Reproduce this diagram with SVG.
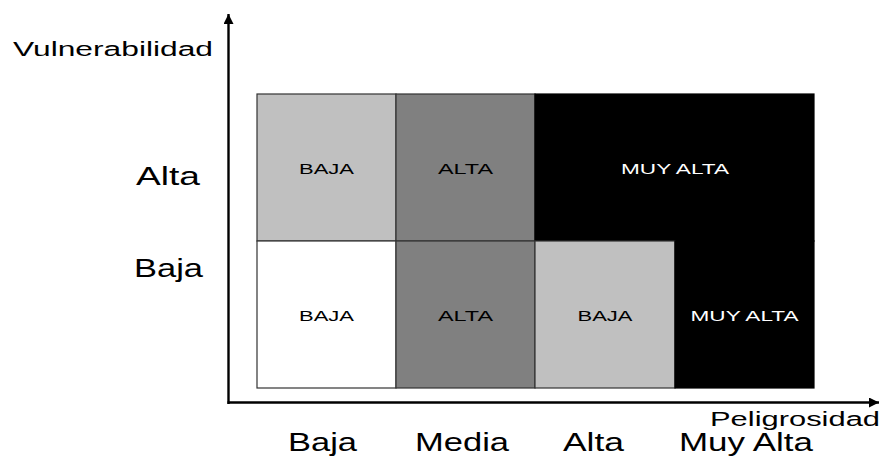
<svg xmlns="http://www.w3.org/2000/svg" width="882" height="457" viewBox="0 0 882 457">
<style>
  .lbl { font-family: "Liberation Sans", Arial, sans-serif; fill: #000; }
  .big { font-size: 26px; }
  .ax { font-size: 20px; }
  .cell-t { font-family: "Liberation Sans", Arial, sans-serif; font-size: 15px; text-anchor: middle; }
  .cell { stroke: #333; stroke-width: 1.2; }
  .light { fill: #c0c0c0; }
  .mid { fill: #808080; }
  .white { fill: #ffffff; }
  .black { fill: #000000; stroke: #000; }
  .axis { stroke: #000; stroke-width: 2.4; fill: none; }
</style>
<defs>
  <marker id="arr" markerUnits="userSpaceOnUse" markerWidth="12" markerHeight="10" refX="10" refY="5" orient="auto">
    <path d="M0,0 L10,5 L0,10 Z" fill="#000"/>
  </marker>
</defs>
<rect width="882" height="457" fill="#fff"/>

<g id="cell-r1c1"><rect class="cell light" x="257" y="94" width="139" height="147"/><text class="cell-t" x="326.5" y="174" textLength="55" lengthAdjust="spacingAndGlyphs">BAJA</text></g>
<g id="cell-r1c2"><rect class="cell mid" x="396" y="94" width="139" height="147"/><text class="cell-t" x="465.5" y="174" textLength="55" lengthAdjust="spacingAndGlyphs">ALTA</text></g>
<g id="cell-r1c34"><rect class="cell black" x="535" y="94" width="279" height="147"/><text class="cell-t" x="675" y="174" fill="#fff" textLength="108" lengthAdjust="spacingAndGlyphs">MUY ALTA</text></g>
<g id="cell-r2c1"><rect class="cell white" x="257" y="241" width="139" height="147"/><text class="cell-t" x="326.5" y="321" textLength="55" lengthAdjust="spacingAndGlyphs">BAJA</text></g>
<g id="cell-r2c2"><rect class="cell mid" x="396" y="241" width="139" height="147"/><text class="cell-t" x="465.5" y="321" textLength="55" lengthAdjust="spacingAndGlyphs">ALTA</text></g>
<g id="cell-r2c3"><rect class="cell light" x="535" y="241" width="140" height="147"/><text class="cell-t" x="605" y="321" textLength="55" lengthAdjust="spacingAndGlyphs">BAJA</text></g>
<g id="cell-r2c4"><rect class="cell black" x="675" y="241" width="139" height="147"/><text class="cell-t" x="744.5" y="321" fill="#fff" textLength="108" lengthAdjust="spacingAndGlyphs">MUY ALTA</text></g>

<g id="connectors">
  <line class="axis" x1="228.5" y1="404" x2="228.5" y2="14" marker-end="url(#arr)"/>
  <line class="axis" x1="227.5" y1="402.5" x2="879" y2="402.5" marker-end="url(#arr)"/>
</g>

<g id="labels">
  <text class="lbl ax" x="13" y="56" textLength="200" lengthAdjust="spacingAndGlyphs">Vulnerabilidad</text>
  <text class="lbl big" x="136" y="185" textLength="64" lengthAdjust="spacingAndGlyphs">Alta</text>
  <text class="lbl big" x="134" y="277" textLength="69" lengthAdjust="spacingAndGlyphs">Baja</text>
  <text class="lbl ax" x="710" y="426" textLength="170" lengthAdjust="spacingAndGlyphs">Peligrosidad</text>
  <text class="lbl big" x="288" y="451" textLength="69" lengthAdjust="spacingAndGlyphs">Baja</text>
  <text class="lbl big" x="415" y="451" textLength="94" lengthAdjust="spacingAndGlyphs">Media</text>
  <text class="lbl big" x="563" y="451" textLength="61" lengthAdjust="spacingAndGlyphs">Alta</text>
  <text class="lbl big" x="679" y="451" textLength="134" lengthAdjust="spacingAndGlyphs">Muy Alta</text>
</g>
</svg>
